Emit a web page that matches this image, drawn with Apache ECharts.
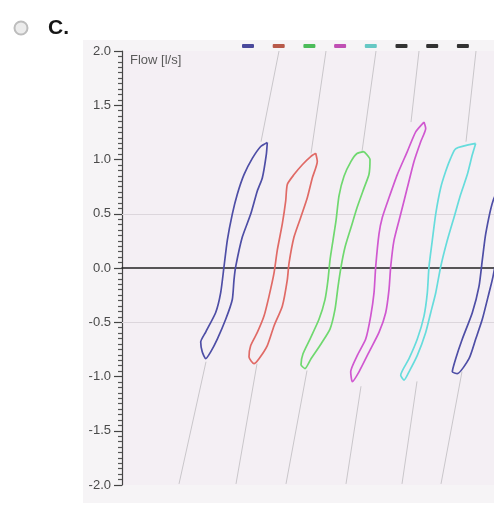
<!DOCTYPE html>
<html>
<head>
<meta charset="utf-8">
<script src="https://cdn.jsdelivr.net/npm/echarts@6/dist/echarts.min.js"></script>
<style>
html, body { margin: 0; padding: 0; background: #fff; }
#main { width: 494px; height: 512px; }
</style>
</head>
<body>
<div id="main"></div>
<script>
// loops: [volume (hidden axis), flow l/s]
var loop1 = [[14.53,1.157],[14.43,1.045],[14.03,0.83],[13.53,0.71],[12.87,0.497],[12.03,0.285],[11.37,0.012],[11.2,-0.109],[11.03,-0.29],[10.37,-0.473],[9.53,-0.655],[8.87,-0.773],[8.37,-0.836],[8.03,-0.775],[7.87,-0.682],[8.37,-0.59],[9.37,-0.41],[9.87,-0.227],[10.2,0.012],[10.53,0.255],[11.03,0.497],[11.53,0.68],[12.2,0.86],[13.03,1.01],[13.87,1.12],[14.53,1.157]];
var loop2 = [[19.37,1.057],[19.53,0.982],[19.03,0.83],[18.53,0.648],[17.87,0.466],[17.2,0.285],[16.7,0.043],[16.53,-0.109],[16.03,-0.352],[15.2,-0.534],[14.53,-0.715],[13.7,-0.836],[13.2,-0.882],[12.7,-0.821],[12.87,-0.715],[13.53,-0.594],[14.2,-0.443],[14.7,-0.261],[15.2,-0.048],[15.53,0.164],[16.03,0.406],[16.37,0.618],[16.53,0.77],[17.2,0.861],[18.03,0.952],[18.87,1.027],[19.37,1.057]];
var loop3 = [[24.2,1.073],[24.8,1.0],[24.7,0.864],[24.2,0.736],[23.5,0.555],[22.9,0.373],[22.3,0.191],[21.9,0.009],[21.6,-0.173],[21.3,-0.382],[20.8,-0.564],[19.9,-0.7],[18.9,-0.836],[18.3,-0.927],[17.9,-0.891],[18.1,-0.791],[18.8,-0.655],[19.7,-0.473],[20.3,-0.291],[20.6,-0.109],[20.8,0.073],[21.1,0.255],[21.4,0.436],[21.7,0.664],[22.2,0.845],[22.9,0.982],[23.5,1.055],[24.2,1.073]];
var loop4 = [[30.2,1.345],[30.37,1.285],[29.87,1.164],[29.2,0.982],[28.53,0.739],[27.87,0.497],[27.2,0.255],[26.87,0.012],[26.7,-0.2],[26.37,-0.412],[25.7,-0.594],[24.7,-0.775],[23.7,-0.957],[23.03,-1.048],[22.87,-0.957],[23.53,-0.806],[24.37,-0.655],[24.87,-0.443],[25.2,-0.23],[25.37,0.012],[25.7,0.315],[26.03,0.466],[26.7,0.648],[27.53,0.861],[28.53,1.073],[29.37,1.255],[30.2,1.345]];
var loop5 = [[35.37,1.148],[35.03,1.043],[34.53,0.861],[33.87,0.679],[33.2,0.466],[32.53,0.255],[31.87,0.012],[31.37,-0.23],[30.87,-0.412],[30.37,-0.594],[29.53,-0.806],[28.7,-0.957],[28.2,-1.034],[27.87,-0.988],[28.7,-0.836],[29.53,-0.655],[30.2,-0.443],[30.53,-0.23],[30.7,0.012],[31.03,0.255],[31.37,0.497],[31.87,0.739],[32.37,0.891],[32.87,1.012],[33.37,1.1],[35.37,1.148]];
var loop6 = [[38.5,0.9],[37.1,0.618],[36.37,0.315],[36.03,0.073],[35.7,-0.17],[35.03,-0.412],[34.03,-0.655],[33.37,-0.836],[33.03,-0.957],[33.53,-0.973],[34.7,-0.836],[35.37,-0.655],[36.03,-0.473],[36.7,-0.23],[37.1,-0.079],[37.8,0.3],[38.5,0.9]];

// grey lines running through the loops
var tails = [
    [[5.7,-1.99],[8.4,-0.864]], [[13.9,1.164],[15.7,2.0]],
    [[11.4,-1.99],[13.5,-0.882]], [[18.9,1.055],[20.4,2.0]],
    [[16.4,-1.99],[18.5,-0.945]], [[24.0,1.073],[25.4,2.0]],
    [[22.4,-1.99],[23.9,-1.09]], [[28.9,1.345],[29.7,2.0]],
    [[28.0,-1.99],[29.5,-1.045]], [[34.4,1.164],[35.4,2.0]],
    [[31.9,-1.99],[34.0,-0.955]]
];

var loops = [loop1, loop2, loop3, loop4, loop5, loop6];
var loopColors = ['#4e4ea6', '#e06a66', '#6fd86f', '#d058d0', '#66dcdc', '#4e4ea6'];
var legendNames = ['1', '2', '3', '4', '5', '6', '7', '8'];
var legendColors = ['#4a4a9c', '#b85a4a', '#4cbc5a', '#c050b4', '#66c8c4', '#333333', '#333333', '#333333'];
var gridLines = [0.5, -0.5];

var chart = echarts.init(document.getElementById('main'));

var series = [];
loops.forEach(function (d, i) {
    series.push({
        name: legendNames[i],
        type: 'line',
        data: d,
        symbol: 'none',
        smooth: 0.2,
        color: loopColors[i],
        lineStyle: { width: 1.7, color: loopColors[i] },
        z: 5
    });
});
// remaining legend keys
series.push({ name: '7', type: 'line', data: [], color: '#333' });
series.push({ name: '8', type: 'line', data: [], color: '#333' });

tails.forEach(function (d) {
    series.push({
        type: 'line',
        data: d,
        symbol: 'none',
        silent: true,
        lineStyle: { width: 1, color: '#c9c6ca' },
        z: 2
    });
});

// horizontal guides at +-0.5
series.push({
    type: 'line',
    data: [],
    markLine: {
        silent: true,
        symbol: 'none',
        label: { show: false },
        lineStyle: { color: '#dcd6dc', width: 1, type: 'solid' },
        data: gridLines.map(function (v) { return { yAxis: v }; })
    }
});

var option = {
    animation: false,
    graphic: [
        { type: 'rect', z: -100, shape: { x: 83, y: 40, width: 411, height: 463 }, style: { fill: '#f6f4f6' } },
        { type: 'circle', shape: { cx: 21, cy: 28, r: 6.5 },
          style: { fill: '#ececec', stroke: '#bdbdbd', lineWidth: 2 } },
        { type: 'text', left: 48, top: 18,
          style: { text: 'C.', font: 'bold 21px "Liberation Sans", Arial, sans-serif', fill: '#151515' } }
    ],
    legend: {
        data: legendNames.map(function (n, i) {
            return { name: n, itemStyle: { color: legendColors[i] } };
        }),
        left: 237,
        top: 39,
        icon: 'roundRect',
        itemWidth: 12,
        itemHeight: 4,
        itemGap: 18.7,
        selectedMode: false,
        formatter: function () { return ''; }
    },
    grid: {
        left: 122,
        top: 51,
        width: 372,
        height: 434,
        show: true,
        borderWidth: 0,
        backgroundColor: '#f4eff4'
    },
    xAxis: {
        type: 'value',
        min: 0,
        max: 37.2,
        axisLine: { show: true, onZero: true, lineStyle: { color: '#222', width: 1.5 } },
        axisTick: { show: false },
        axisLabel: { show: false },
        splitLine: { show: false }
    },
    yAxis: {
        type: 'value',
        min: -2,
        max: 2,
        interval: 0.5,
        name: 'Flow [l/s]',
        nameLocation: 'end',
        nameGap: -16,
        nameTextStyle: {
            align: 'left',
            padding: [0, 0, 0, 8],
            fontSize: 13,
            color: '#5a5a5a',
            fontFamily: '"Liberation Sans", Arial, sans-serif'
        },
        axisLine: { show: true, lineStyle: { color: '#444', width: 1.2 } },
        axisTick: { show: true, length: 8, lineStyle: { color: '#444', width: 1.2 } },
        minorTick: { show: true, splitNumber: 10, length: 4, lineStyle: { color: '#555', width: 1.2 } },
        axisLabel: {
            fontSize: 13,
            color: '#4a4a4a',
            margin: 11,
            fontFamily: '"Liberation Sans", Arial, sans-serif',
            formatter: function (v) { return v.toFixed(1); }
        },
        splitLine: { show: false }
    },
    series: series
};

chart.setOption(option);
</script>
</body>
</html>
